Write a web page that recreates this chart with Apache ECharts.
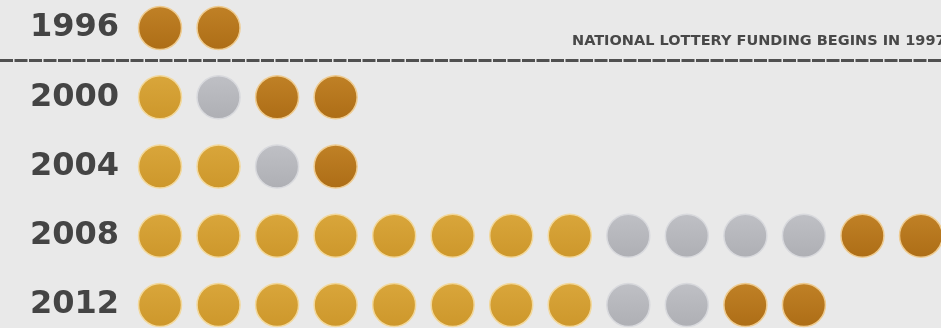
<!DOCTYPE html>
<html>
<head>
<meta charset="utf-8">
<script src="https://cdn.jsdelivr.net/npm/echarts@6/dist/echarts.min.js"></script>
<style>
  html, body { margin: 0; padding: 0; background: #e9e9e9; }
  #main { width: 941px; height: 328px; }
</style>
</head>
<body>
<div id="main"></div>
<script>
// medal rows, in the order they are drawn (G = gold, S = silver, B = bronze)
const years = ['1996', '2000', '2004', '2008', '2012'];
const medals1996 = ['B', 'B'];
const medals2000 = ['G', 'S', 'B', 'B'];
const medals2004 = ['G', 'G', 'S', 'B'];
const medals2008 = ['G', 'G', 'G', 'G', 'G', 'G', 'G', 'G', 'S', 'S', 'S', 'S', 'B', 'B'];
const medals2012 = ['G', 'G', 'G', 'G', 'G', 'G', 'G', 'G', 'S', 'S', 'B', 'B'];
const noteText = 'NATIONAL LOTTERY FUNDING BEGINS IN 1997';

const rows = [medals1996, medals2000, medals2004, medals2008, medals2012];

const pick = (type) => {
  const out = [];
  rows.forEach((row, r) => {
    row.forEach((m, i) => {
      if (m === type) out.push([i, years[r]]);
    });
  });
  return out;
};

const grad = (c1, c2) => new echarts.graphic.LinearGradient(0, 0, 0, 1, [
  { offset: 0, color: c1 },
  { offset: 1, color: c2 }
]);

const chart = echarts.init(document.getElementById('main'), null, { renderer: 'canvas' });

const medalSeries = (name, data, fill, border) => ({
  name: name,
  type: 'scatter',
  clip: false,
  symbol: 'circle',
  symbolSize: 43,
  silent: true,
  itemStyle: {
    opacity: 1,
    color: fill,
    borderColor: border,
    borderWidth: 1.5
  },
  data: data
});

const option = {
  backgroundColor: '#e9e9e9',
  animation: false,
  grid: { left: 160, right: 20, top: 28, bottom: 23 },
  xAxis: {
    type: 'value',
    min: 0,
    max: 13,
    show: false
  },
  yAxis: {
    type: 'category',
    data: years,
    inverse: true,
    boundaryGap: false,
    axisLine: { show: false },
    axisTick: { show: false },
    splitLine: { show: false },
    axisLabel: {
      margin: 41,
      fontFamily: 'DejaVu Sans',
      fontWeight: 'bold',
      fontSize: 32,
      color: '#444'
    }
  },
  graphic: [
    {
      type: 'line',
      shape: { x1: 0, y1: 60.5, x2: 941, y2: 60.5 },
      style: { stroke: '#505050', lineWidth: 3, lineDash: [13, 1.5] },
      silent: true
    },
    {
      type: 'text',
      left: 572,
      top: 34,
      style: {
        text: noteText,
        font: 'bold 14.5px "DejaVu Sans"',
        fill: '#484848'
      },
      silent: true
    }
  ],
  series: [
    medalSeries('Gold', pick('G'), grad('#d9a63b', '#cd972b'), '#f2d89c'),
    medalSeries('Silver', pick('S'), grad('#bfc0c5', '#aeafb4'), '#d8d9dd'),
    medalSeries('Bronze', pick('B'), grad('#c08126', '#ad6d16'), '#eecb90')
  ]
};

chart.setOption(option);
window.addEventListener('resize', () => {
  chart.resize();
});
</script>
</body>
</html>
